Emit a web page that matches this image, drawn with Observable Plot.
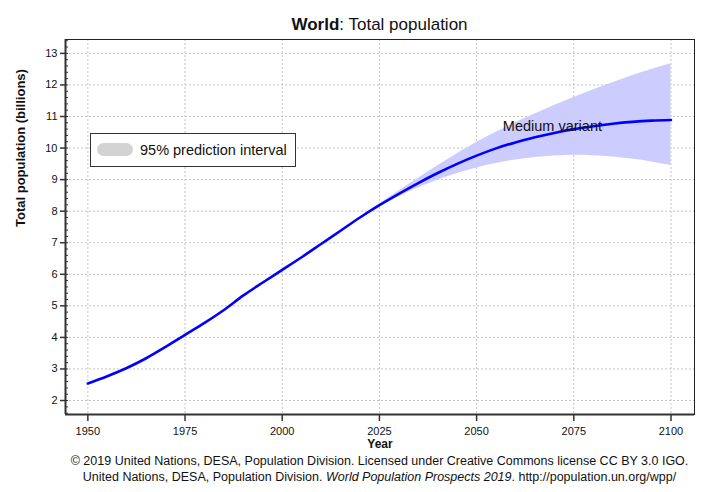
<!DOCTYPE html>
<html><head><meta charset="utf-8">
<script src="https://cdn.jsdelivr.net/npm/d3@7"></script>
<script src="https://cdn.jsdelivr.net/npm/@observablehq/plot@0.6"></script>
<style>
body{margin:0;background:#fff;font-family:Arial,"Liberation Sans",sans-serif;}
#wrap{position:relative;width:713px;height:492px;overflow:hidden;background:#fff}
#chart{position:absolute;left:0;top:0}
#title{position:absolute;top:15px;left:65px;width:629px;text-align:center;font-size:17px;line-height:20px;color:#111}
#legend{position:absolute;left:90px;top:133px;width:204px;height:32px;border:1px solid #333;background:#fff}
#legend .sw{position:absolute;left:6px;top:9px;width:36px;height:13px;border-radius:6.5px;background:#d3d3d3}
#legend .lt{position:absolute;left:49px;top:7.5px;font-size:14.5px;line-height:17px;color:#111;white-space:nowrap}
#caption{position:absolute;left:65px;width:629px;top:452.5px;text-align:center;font-size:12.5px;line-height:16.2px;color:#111;white-space:nowrap}
</style></head>
<body>
<div id="wrap">
  <div id="chart"></div>
  <div id="title"><b>World</b>: Total population</div>
  <div id="legend"><div class="sw"></div><div class="lt">95% prediction interval</div></div>
  <div id="caption">© 2019 United Nations, DESA, Population Division. Licensed under Creative Commons license CC BY 3.0 IGO.<br>United Nations, DESA, Population Division. <i>World Population Prospects 2019</i>. http://population.un.org/wpp/</div>
</div>
<script>
// Medium variant (billions)
const years = [1950,1955,1960,1965,1970,1975,1980,1985,1990,1995,2000,2005,2010,2015,2020,2025,2030,2035,2040,2045,2050,2055,2060,2065,2070,2075,2080,2085,2090,2095,2100];
const medium = [2.54,2.77,3.03,3.34,3.70,4.08,4.46,4.87,5.33,5.74,6.14,6.54,6.96,7.38,7.80,8.19,8.55,8.89,9.21,9.50,9.76,9.99,10.18,10.34,10.48,10.60,10.69,10.77,10.83,10.87,10.89];
// 95% prediction interval
const piYears = [2020,2025,2030,2035,2040,2045,2050,2055,2060,2065,2070,2075,2080,2085,2090,2095,2100];
const lower95 = [7.80,8.15,8.46,8.74,8.98,9.19,9.37,9.51,9.62,9.70,9.75,9.77,9.76,9.72,9.65,9.56,9.45];
const upper95 = [7.80,8.23,8.64,9.04,9.44,9.82,10.18,10.50,10.80,11.08,11.35,11.60,11.84,12.07,12.29,12.49,12.67];
// Axes
const xTicks = [1950,1975,2000,2025,2050,2075,2100];
const yTicks = [2,3,4,5,6,7,8,9,10,11,12,13];
const yMinor = [1.6,1.8,2.0,2.2,2.4,2.6,2.8,3.0,3.2,3.4,3.6,3.8,4.0,4.2,4.4,4.6,4.8,5.0,5.2,5.4,5.6,5.8,6.0,6.2,6.4,6.6,6.8,7.0,7.2,7.4,7.6,7.8,8.0,8.2,8.4,8.6,8.8,9.0,9.2,9.4,9.6,9.8,10.0,10.2,10.4,10.6,10.8,11.0,11.2,11.4,11.6,11.8,12.0,12.2,12.4,12.6,12.8,13.0,13.2,13.4];
const xDomain = [1944.25, 2106.05];
const yDomain = [1.557, 13.44];
const seriesLabel = [{year: 2069.5, value: 10.69, text: "Medium variant"}];

const medData = years.map((y, i) => ({year: y, pop: medium[i]}));
const piData = piYears.map((y, i) => ({year: y, lo: lower95[i], hi: upper95[i]}));

const grid = {stroke: "#c4c4c4", strokeOpacity: 1, strokeDasharray: "2,2", strokeWidth: 1};

const chart = Plot.plot({
  width: 713, height: 492,
  marginTop: 39, marginLeft: 65, marginRight: 19, marginBottom: 78,
  x: {domain: xDomain},
  y: {domain: yDomain},
  style: {fontFamily: "Arial, 'Liberation Sans', sans-serif", fontSize: "11px", color: "#111", background: "#fff", overflow: "visible"},
  marks: [
    Plot.gridX(xTicks, grid),
    Plot.gridY(yTicks, grid),
    Plot.areaY(piData, {x: "year", y1: "lo", y2: "hi", fill: "#ccccff", fillOpacity: 1, curve: "monotone-x"}),
    Plot.line(medData, {x: "year", y: "pop", stroke: "#0000ff", strokeWidth: 2.6, curve: "monotone-x"}),
    Plot.text(seriesLabel, {x: "year", y: "value", text: "text", fontSize: 14.5, fill: "#111"}),
    Plot.frame({stroke: "#222", strokeWidth: 1}),
    Plot.ruleX([xDomain[0]], {stroke: "#333", strokeWidth: 2}),
    Plot.ruleY([yDomain[0]], {stroke: "#333", strokeWidth: 2}),
    Plot.axisX({ticks: xTicks, tickSize: 7, tickPadding: 6, tickFormat: "d", label: null, stroke: "#333", strokeWidth: 1.5, fill: "#111"}),
    Plot.axisY({ticks: yTicks, tickSize: 5, tickPadding: 3, tickFormat: "d", label: null, stroke: "#333", strokeWidth: 1.5, fill: "#111"}),
    Plot.axisY({ticks: yMinor, tickSize: -3, tickFormat: () => "", label: null, stroke: "#333", strokeWidth: 1}),
    Plot.text(["Year"], {frameAnchor: "bottom", dy: 33, fontWeight: "bold", fontSize: 12, fill: "#111"}),
    Plot.text(["Total population (billions)"], {frameAnchor: "left", dx: -45, rotate: -90, fontWeight: "bold", fontSize: 13, fill: "#111"})
  ]
});
document.getElementById("chart").appendChild(chart);
</script>
</body></html>
